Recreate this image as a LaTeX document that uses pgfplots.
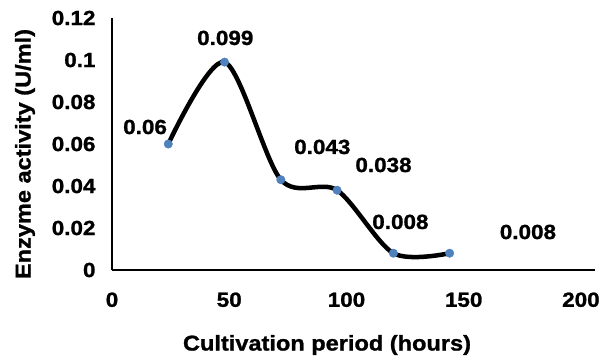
\documentclass[border=0pt]{standalone}
\usepackage{pgfplots}
\pgfplotsset{compat=1.18}
\usepackage{fontspec}
\setmainfont{Liberation Sans}[FakeStretch=1.1, BoldFeatures={FakeBold=1.2}]
\definecolor{mk}{RGB}{79,129,189}
\begin{document}
\begin{tikzpicture}
\path[use as bounding box] (-112bp,-90bp) rectangle (493bp,270bp);
\begin{axis}[
 at={(0,0)}, anchor=south west, scale only axis,
 width=483bp, height=252bp,
 xmin=0, xmax=206, ymin=0, ymax=0.12,
 axis lines=left, axis line style={-, line width=2.5bp, black},
 xtick={0,50,100,150,200}, ytick={0,0.02,0.04,0.06,0.08,0.1,0.12},
 yticklabels={0,0.02,0.04,0.06,0.08,0.1,0.12},
 xticklabels={0,50,100,150,200},
 major tick length=0,
 ticklabel style={font=\fontsize{20.5}{24}\selectfont\bfseries},
 xticklabel style={yshift=-19bp}, yticklabel style={xshift=-13bp},
 clip=false,
]
\addplot[black, line width=4.5bp, smooth, tension=0.5, mark=*, mark size=4.2bp,
  mark options={fill=mk, draw=mk, line width=0.5bp}]
  coordinates {(24,0.06)(48,0.099)(72,0.043)(96,0.038)(120,0.008)(144,0.008)};
\begin{scope}[every node/.style={font=\fontsize{20.5}{24}\selectfont\bfseries}]
\node at (axis cs:14.1,0.0681) {0.06};
\node at (axis cs:48.3,0.1105) {0.099};
\node at (axis cs:89.7,0.0586) {0.043};
\node at (axis cs:115.8,0.050) {0.038};
\node at (axis cs:123,0.0229) {0.008};
\node at (axis cs:177.4,0.0181) {0.008};
\end{scope}
\end{axis}
\node[rotate=90, font=\fontsize{21.5}{25}\selectfont\bfseries] at (-87bp,116bp) {Enzyme activity (U/ml)};
\node[font=\fontsize{21.5}{25}\selectfont\bfseries] at (215bp,-75bp) {Cultivation period (hours)};
\end{tikzpicture}
\end{document}
